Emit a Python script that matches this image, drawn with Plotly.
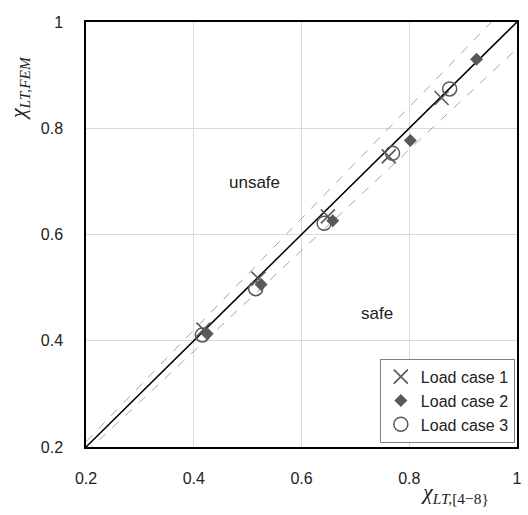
import plotly.graph_objects as go

# Data
lc1_x = [0.418, 0.520, 0.649, 0.762, 0.860]
lc1_y = [0.421, 0.517, 0.634, 0.747, 0.857]
lc2_x = [0.425, 0.525, 0.658, 0.802, 0.925]
lc2_y = [0.413, 0.506, 0.626, 0.777, 0.930]
lc3_x = [0.416, 0.515, 0.642, 0.769, 0.875]
lc3_y = [0.411, 0.498, 0.621, 0.753, 0.874]

ref_x = [0.2, 1.0]
band = 0.05
tick_vals = [0.2, 0.4, 0.6, 0.8, 1.0]
tick_text = ["0.2", "0.4", "0.6", "0.8", "1"]

grey = "#595959"
font_main = "Liberation Sans Narrow, Arial Narrow, Liberation Sans, Arial, sans-serif"
serif = "Liberation Serif, DejaVu Serif, serif"

fig = go.Figure()

# reference lines
fig.add_trace(go.Scatter(x=ref_x, y=[v * (1 + band) for v in ref_x], mode="lines",
                         line=dict(color="#a6a6a6", width=1, dash="dash"),
                         showlegend=False, hoverinfo="skip"))
fig.add_trace(go.Scatter(x=ref_x, y=[v * (1 - band) for v in ref_x], mode="lines",
                         line=dict(color="#a6a6a6", width=1, dash="dash"),
                         showlegend=False, hoverinfo="skip"))
fig.add_trace(go.Scatter(x=ref_x, y=ref_x, mode="lines",
                         line=dict(color="black", width=1.5),
                         showlegend=False, hoverinfo="skip"))

fig.add_trace(go.Scatter(x=lc1_x, y=lc1_y, mode="markers", name="Load case 1",
                         marker=dict(symbol="x-thin-open", size=14,
                                     line=dict(color=grey, width=1.6), color=grey)))
fig.add_trace(go.Scatter(x=lc2_x, y=lc2_y, mode="markers", name="Load case 2",
                         marker=dict(symbol="diamond", size=10, color=grey,
                                     line=dict(width=0))))
fig.add_trace(go.Scatter(x=lc3_x, y=lc3_y, mode="markers", name="Load case 3",
                         marker=dict(symbol="circle-open", size=14,
                                     line=dict(color=grey, width=1.5), color=grey)))

axis_common = dict(range=[0.2, 1.0], tickvals=tick_vals, ticktext=tick_text,
                   showgrid=True, gridcolor="#d9d9d9", gridwidth=1,
                   zeroline=False, showline=True, linecolor="black", linewidth=1.5,
                   mirror=True, ticks="",
                   tickfont=dict(family=font_main, size=16, color="#222222"))

fig.update_layout(
    width=528, height=515,
    margin=dict(l=86, r=6, t=22, b=68),
    paper_bgcolor="white", plot_bgcolor="white",
    xaxis=dict(**axis_common, ticklabelstandoff=16),
    yaxis=dict(**axis_common, ticklabelstandoff=18),
    legend=dict(x=0.995, y=0.01, xanchor="right", yanchor="bottom",
                bgcolor="white", bordercolor="#808080", borderwidth=1,
                font=dict(family=font_main, size=16, color="#222222"),
                itemwidth=30, tracegroupgap=0),
    annotations=[
        dict(text="unsafe", x=0.512, y=0.697, xref="x", yref="y", showarrow=False,
             xanchor="center", yanchor="middle",
             font=dict(family=font_main, size=17, color="#222222")),
        dict(text="safe", x=0.74, y=0.452, xref="x", yref="y", showarrow=False,
             xanchor="center", yanchor="middle",
             font=dict(family=font_main, size=17, color="#222222")),
        dict(text="<i>χ<sub>LT,FEM</sub></i>", x=-0.155, y=0.845, xref="paper", yref="paper",
             textangle=-90, showarrow=False, xanchor="center", yanchor="middle",
             font=dict(family=serif, size=22, color="#222222")),
        dict(text="<i>χ<sub>LT,</sub></i><sub>[4−8}</sub>", x=0.855, y=-0.108,
             xref="paper", yref="paper", showarrow=False,
             xanchor="center", yanchor="middle",
             font=dict(family=serif, size=22, color="#222222")),
    ],
)

fig.write_html("out.html", post_script="document.body.style.margin='0';",
               config={"displayModeBar": False})
